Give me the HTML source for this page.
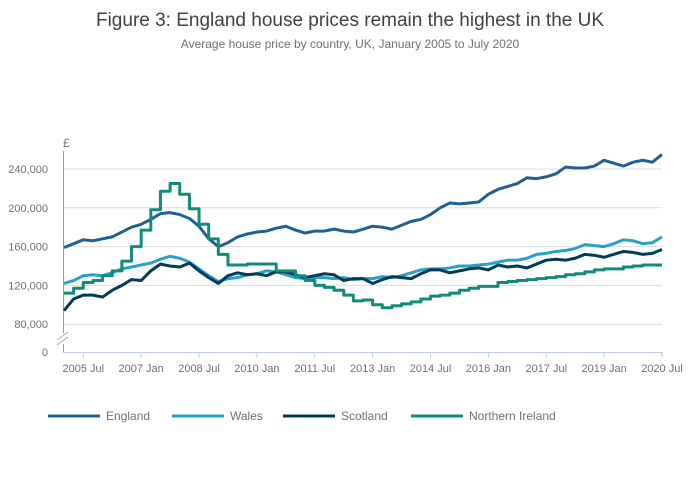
<!DOCTYPE html>
<html><head><meta charset="utf-8"><style>
body{margin:0;background:#fff;font-family:"Liberation Sans",sans-serif;}
svg{display:block}
text{font-family:"Liberation Sans",sans-serif;}
</style></head><body>
<svg id="c" width="700" height="502">
<text x="350" y="26" text-anchor="middle" font-size="19" fill="#414042">Figure 3: England house prices remain the highest in the UK</text>
<text x="350" y="48" text-anchor="middle" font-size="12" fill="#707071">Average house price by country, UK, January 2005 to July 2020</text>
<g id="grid"></g><g id="axes"></g><g id="series"></g><g id="legend"></g>
</svg>
<script>
const xLabels=["2005 Jul","2007 Jan","2008 Jul","2010 Jan","2011 Jul","2013 Jan","2014 Jul","2016 Jan","2017 Jul","2019 Jan","2020 Jul"];
const xLabelMonths=[6,24,42,60,78,96,114,132,150,168,186];
const yTicks=[80000,120000,160000,200000,240000];
const seriesNames=["England","Wales","Scotland","Northern Ireland"];
const england=[159,163,167,166,168,170,175,180,183,188,194,195,193,189,181,168,160,164,170,173,175,176,179,181,177,174,176,176,178,176,175,178,181,180,178,182,186,188,193,200,205,204,205,206,214,219,222,225,231,230,232,235,242,241,241,243,249,246,243,247,249,247,255];
const wales=[122,125,130,131,130,133,137,139,141,143,147,150,148,144,137,130,124,127,128,131,132,135,134,131,128,127,128,128,127,128,126,127,127,129,128,130,133,136,137,137,138,140,140,141,142,144,146,146,148,152,153,155,156,158,162,161,160,163,167,166,163,164,170];
const scotland=[94,106,110,110,108,115,120,126,125,135,142,140,139,143,135,128,122,130,133,131,132,130,134,134,131,128,130,132,131,125,127,127,122,126,129,128,127,132,136,136,133,135,137,138,136,141,139,140,138,142,146,147,146,148,152,151,149,152,155,154,152,153,157];
const nireland=[112,117,123,125,130,135,145,160,177,198,217,225,214,199,183,168,152,141,141,142,142,142,135,135,130,125,120,118,115,110,104,105,100,97,99,101,103,106,109,110,112,115,117,119,119,123,124,125,126,127,128,129,131,132,134,136,137,137,139,140,141,141,141];
const colors=["#206095","#27a0cc","#003c57","#118c7b"];
const NS="http://www.w3.org/2000/svg";
const X=m=>64+m*3.215;
const Y=v=>169+(240000-v)*0.00097;
function mk(tag,attrs,parent){const e=document.createElementNS(NS,tag);for(const k in attrs)e.setAttribute(k,attrs[k]);parent.appendChild(e);return e;}
const grid=document.getElementById('grid'),axes=document.getElementById('axes'),ser=document.getElementById('series'),leg=document.getElementById('legend');
yTicks.forEach(v=>{
 const l=mk('line',{x1:63,x2:662,y1:Y(v),y2:Y(v),stroke:'#dcdcdc','stroke-width':1},grid);
 
 
 const t=mk('text',{x:48,y:Y(v)+4,'text-anchor':'end','font-size':11,fill:'#707071'},axes);
 t.textContent=v.toLocaleString('en-GB');
 
 
});
const z=mk('text',{x:48,y:356,'text-anchor':'end','font-size':11,fill:'#707071'},axes);z.textContent='0';


const pd=mk('text',{x:63,y:147,'font-size':12,fill:'#707071'},axes);pd.textContent='£';


mk('line',{x1:63.5,x2:63.5,y1:151,y2:333,stroke:'#999','stroke-width':1},axes);
mk('line',{x1:63.5,x2:63.5,y1:344,y2:352,stroke:'#999','stroke-width':1},axes);
mk('line',{x1:57,x2:68,y1:340,y2:332,stroke:'#aaa','stroke-width':1},axes);
mk('line',{x1:57,x2:68,y1:345,y2:337,stroke:'#aaa','stroke-width':1},axes);
mk('line',{x1:63,x2:663,y1:352.5,y2:352.5,stroke:'#bfcbe0','stroke-width':1},axes);
xLabels.forEach((s,i)=>{
 const x=X(xLabelMonths[i]);
 mk('line',{x1:x,x2:x,y1:352,y2:358,stroke:'#bfcbe0'},axes);
 const t=mk('text',{x:x,y:372,'text-anchor':'middle','font-size':11,fill:'#707071'},axes);
 t.textContent=s;
 
 
});
[england,wales,scotland,nireland].forEach((arr,si)=>{
 let d='';
 arr.forEach((v,i)=>{
  const x=X(i*3),y=Y(v*1000);
  if(si===3){d+=(i?`L${x},${Y(arr[i-1]*1000)}L`:'M')+x+','+y;}
  else d+=(i?'L':'M')+x+','+y;
 });
 const p=mk('path',{d:d,fill:'none',stroke:colors[si],'stroke-width':3,'stroke-linejoin':'round'},ser);
 
 
});
const lx=[48,172,283,411];
seriesNames.forEach((n,i)=>{
 const g=mk('g',{},leg);
 
 
 mk('line',{x1:lx[i],x2:lx[i]+52,y1:416,y2:416,stroke:colors[i],'stroke-width':3},g);
 const t=mk('text',{x:lx[i]+58,y:420,'font-size':12,fill:'#707071'},g);t.textContent=n;
});
</script>
</body></html>
